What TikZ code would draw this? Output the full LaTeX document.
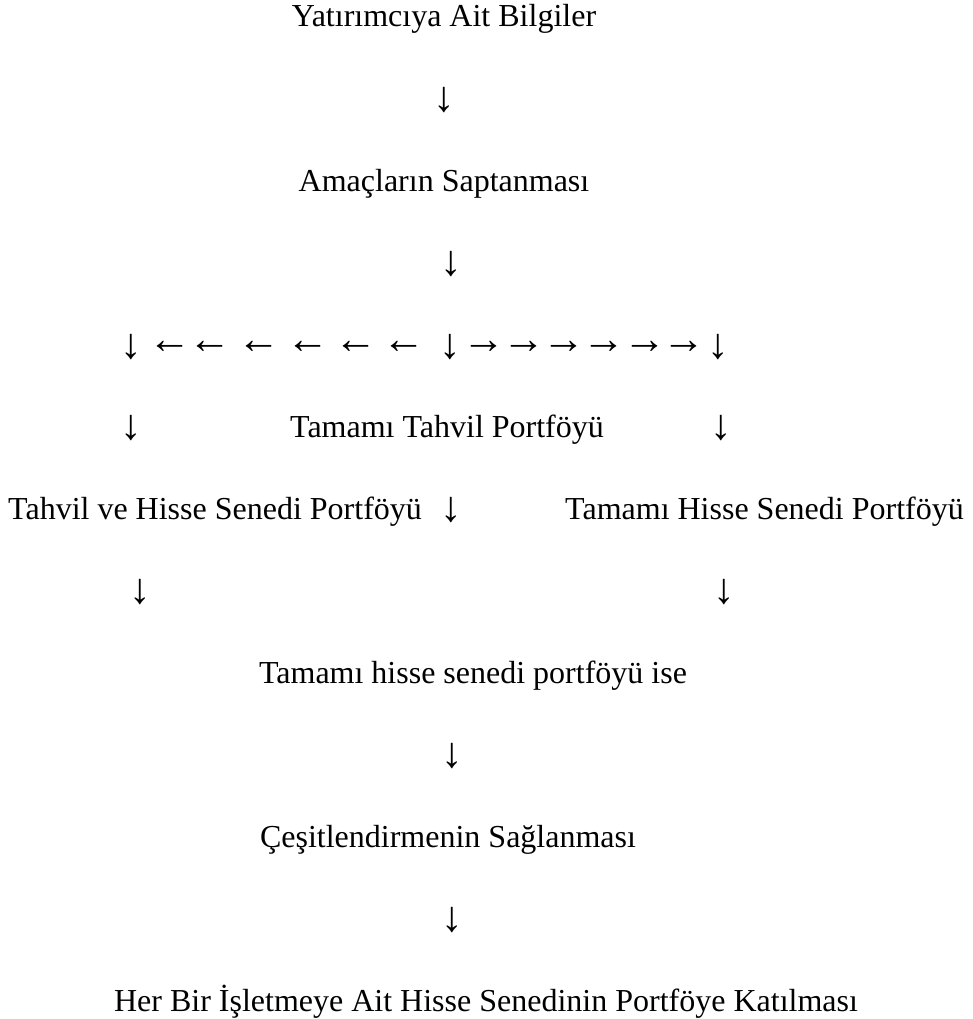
\documentclass[tikz,border=0pt]{standalone}
\usepackage{fontspec}
\setmainfont{Liberation Serif}
\begin{document}
\begin{tikzpicture}[x=1pt,y=1pt,
  txt/.style={anchor=base,inner sep=0pt,font=\fontsize{32}{38}\selectfont},
  txtw/.style={txt,anchor=base west},
  txte/.style={txt,anchor=base east},
  arr/.style={anchor=center,inner sep=0pt,font=\fontsize{43}{50}\selectfont}]
\useasboundingbox (0,0) rectangle (973,-1019);
% rows: baseline y = -(27 + 82 i), centre y = -(18 + 82 i)
\node[txt] (t0) at (444,-27) {Yatırımcıya Ait Bilgiler};
\node[arr] (d1) at (444,-100) {↓};
\node[txt] (t2) at (444,-191) {Amaçların Saptanması};
\node[arr] (d3) at (451,-264) {↓};
% arrow row
\node[arr] (r4a) at (131,-347) {↓};
\foreach \x [count=\i] in {170,210,259,308,356,404}
  \node[arr] (l\i) at (\x,-347) {←};
\node[arr] (r4b) at (450,-347) {↓};
\foreach \x [count=\i] in {484,524,564,604,645,684}
  \node[arr] (r\i) at (\x,-347) {→};
\node[arr] (r4c) at (718,-347) {↓};
% row 5
\node[arr] (d5a) at (131,-428) {↓};
\node[txt] (t5) at (447,-437) {Tamamı Tahvil Portföyü};
\node[arr] (d5b) at (721,-428) {↓};
% row 6
\node[txtw] (t6a) at (8,-519) {Tahvil ve Hisse Senedi Portföyü};
\node[arr] (d6) at (451,-510) {↓};
\node[txte] (t6b) at (964,-519) {Tamamı Hisse Senedi Portföyü};
% row 7
\node[arr] (d7a) at (140,-592) {↓};
\node[arr] (d7b) at (724,-592) {↓};
% rest
\node[txt] (t8) at (473,-683) {Tamamı hisse senedi portföyü ise};
\node[arr] (d9) at (452,-756) {↓};
\node[txt] (t10) at (448,-847) {Çeşitlendirmenin Sağlanması};
\node[arr] (d11) at (452,-920) {↓};
\node[txt] (t12) at (486,-1011) {Her Bir İşletmeye Ait Hisse Senedinin Portföye Katılması};
\end{tikzpicture}
\end{document}
